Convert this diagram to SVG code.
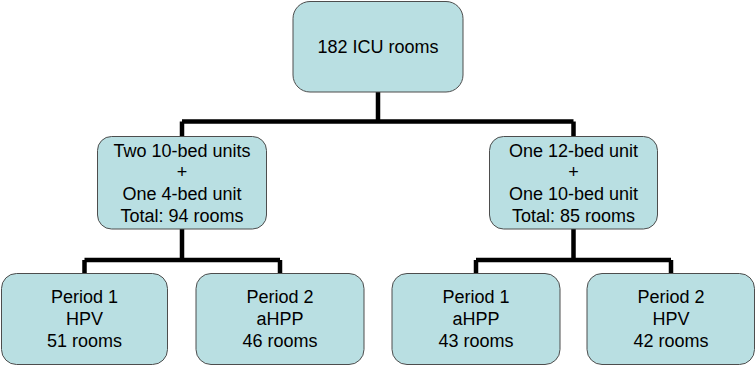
<svg xmlns="http://www.w3.org/2000/svg" width="756" height="366" viewBox="0 0 756 366">
<style>
.box{fill:#B9DFE2;stroke:#4d4d4d;stroke-width:1}
.t{font-family:"Liberation Sans",Arial,sans-serif;font-size:18px;fill:#000;text-anchor:middle}
.c{fill:none;stroke:#000;stroke-width:4.5;stroke-linecap:butt;stroke-linejoin:miter}
</style>
<rect width="756" height="366" fill="#fff"/>
<g id="connectors">
<path class="c" d="M378 92 V121.5 M182 121.5 H573.5 M182 121.5 V136 M573.5 121.5 V136"/>
<path class="c" d="M182 229 V260 M84.5 260 H280 M84.5 260 V273 M280 260 V273"/>
<path class="c" d="M573.5 229 V260 M476 260 H671 M476 260 V273 M671 260 V273"/>
</g>
<g id="root">
<rect class="box" x="293" y="1.5" width="170" height="90.5" rx="17"/>
<text class="t" x="378" y="53">182 ICU rooms</text>
</g>
<g id="left-mid">
<rect class="box" x="97.5" y="136.5" width="169" height="92.5" rx="14"/>
<text class="t" x="182" y="156.5">Two 10-bed units</text>
<text class="t" x="182" y="178.3">+</text>
<text class="t" x="182" y="200.1">One 4-bed unit</text>
<text class="t" x="182" y="221.9">Total: 94 rooms</text>
</g>
<g id="right-mid">
<rect class="box" x="489.5" y="136.5" width="168" height="92.5" rx="14"/>
<text class="t" x="573.5" y="156.5">One 12-bed unit</text>
<text class="t" x="573.5" y="178.3">+</text>
<text class="t" x="573.5" y="200.1">One 10-bed unit</text>
<text class="t" x="573.5" y="221.9">Total: 85 rooms</text>
</g>
<g id="p1-hpv">
<rect class="box" x="1.5" y="273.5" width="166" height="91" rx="15"/>
<text class="t" x="84.5" y="303.3">Period 1</text>
<text class="t" x="84.5" y="325.3">HPV</text>
<text class="t" x="84.5" y="347.3">51 rooms</text>
</g>
<g id="p2-ahpp">
<rect class="box" x="196" y="273.5" width="168" height="91" rx="15"/>
<text class="t" x="280" y="303.3">Period 2</text>
<text class="t" x="280" y="325.3">aHPP</text>
<text class="t" x="280" y="347.3">46 rooms</text>
</g>
<g id="p1-ahpp">
<rect class="box" x="392" y="273.5" width="168" height="91" rx="15"/>
<text class="t" x="476" y="303.3">Period 1</text>
<text class="t" x="476" y="325.3">aHPP</text>
<text class="t" x="476" y="347.3">43 rooms</text>
</g>
<g id="p2-hpv">
<rect class="box" x="587" y="273.5" width="167.5" height="91" rx="15"/>
<text class="t" x="671" y="303.3">Period 2</text>
<text class="t" x="671" y="325.3">HPV</text>
<text class="t" x="671" y="347.3">42 rooms</text>
</g>
</svg>
